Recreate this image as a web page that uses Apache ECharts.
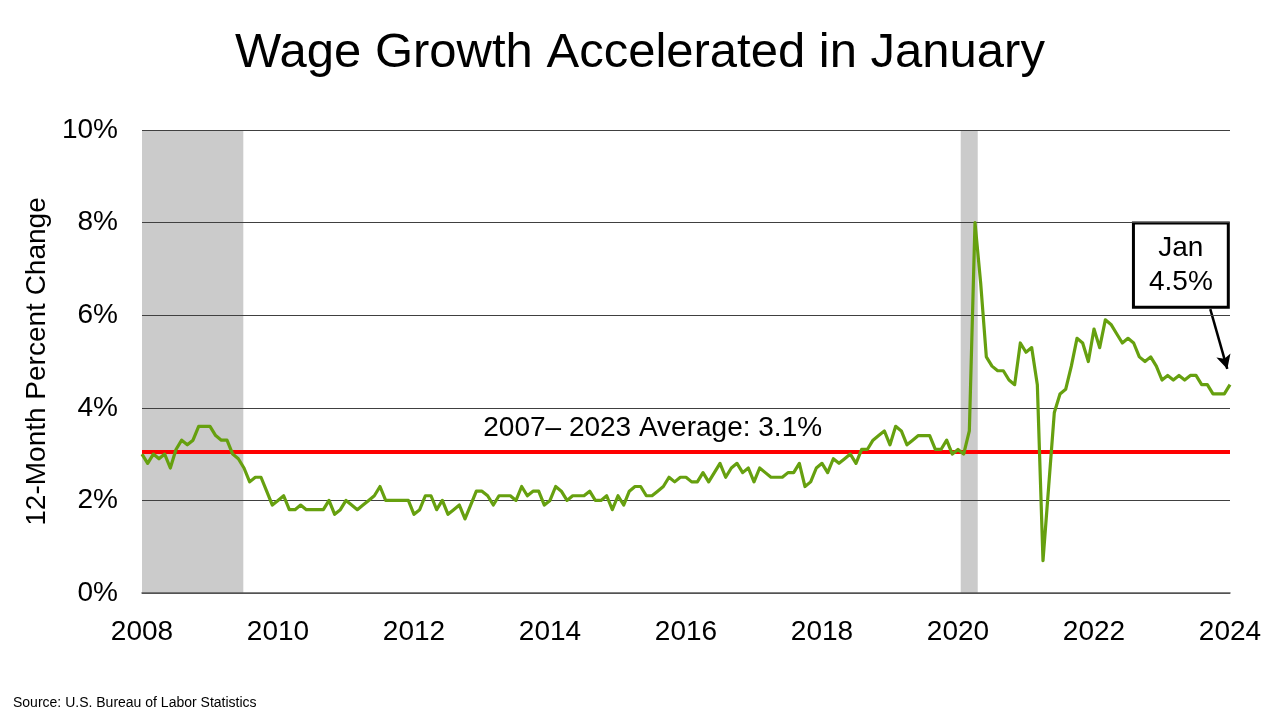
<!DOCTYPE html>
<html>
<head>
<meta charset="utf-8">
<title>Wage Growth Accelerated in January</title>
<script src="https://cdn.jsdelivr.net/npm/echarts@6/dist/echarts.min.js"></script>
<style>
    html, body { margin: 0; padding: 0; background: #fff; }
    #chart { width: 1280px; height: 720px; }
</style>
</head>
<body>
<div id="chart"></div>
<script>
// 12-month % change in average hourly earnings, monthly from Jan 2008
const START_YEAR = 2008;
const wage2008 = [3.0, 2.8, 3.0, 2.9, 3.0, 2.7, 3.1, 3.3, 3.2, 3.3, 3.6, 3.6];
const wage2009 = [3.6, 3.4, 3.3, 3.3, 3.0, 2.9, 2.7, 2.4, 2.5, 2.5, 2.2, 1.9];
const wage2010 = [2.0, 2.1, 1.8, 1.8, 1.9, 1.8, 1.8, 1.8, 1.8, 2.0, 1.7, 1.8];
const wage2011 = [2.0, 1.9, 1.8, 1.9, 2.0, 2.1, 2.3, 2.0, 2.0, 2.0, 2.0, 2.0];
const wage2012 = [1.7, 1.8, 2.1, 2.1, 1.8, 2.0, 1.7, 1.8, 1.9, 1.6, 1.9, 2.2];
const wage2013 = [2.2, 2.1, 1.9, 2.1, 2.1, 2.1, 2.0, 2.3, 2.1, 2.2, 2.2, 1.9];
const wage2014 = [2.0, 2.3, 2.2, 2.0, 2.1, 2.1, 2.1, 2.2, 2.0, 2.0, 2.1, 1.8];
const wage2015 = [2.1, 1.9, 2.2, 2.3, 2.3, 2.1, 2.1, 2.2, 2.3, 2.5, 2.4, 2.5];
const wage2016 = [2.5, 2.4, 2.4, 2.6, 2.4, 2.6, 2.8, 2.5, 2.7, 2.8, 2.6, 2.7];
const wage2017 = [2.4, 2.7, 2.6, 2.5, 2.5, 2.5, 2.6, 2.6, 2.8, 2.3, 2.4, 2.7];
const wage2018 = [2.8, 2.6, 2.9, 2.8, 2.9, 3.0, 2.8, 3.1, 3.1, 3.3, 3.4, 3.5];
const wage2019 = [3.2, 3.6, 3.5, 3.2, 3.3, 3.4, 3.4, 3.4, 3.1, 3.1, 3.3, 3.0];
const wage2020 = [3.1, 3.0, 3.5, 8.0, 6.7, 5.1, 4.9, 4.8, 4.8, 4.6, 4.5, 5.4];
const wage2021 = [5.2, 5.3, 4.5, 0.7, 2.3, 3.9, 4.3, 4.4, 4.9, 5.5, 5.4, 5.0];
const wage2022 = [5.7, 5.3, 5.9, 5.8, 5.6, 5.4, 5.5, 5.4, 5.1, 5.0, 5.1, 4.9];
const wage2023 = [4.6, 4.7, 4.6, 4.7, 4.6, 4.7, 4.7, 4.5, 4.5, 4.3, 4.3, 4.3];
const wage2024 = [4.5];

const AVERAGE = 3.05;
const AVERAGE_LABEL = '2007\u2013 2023 Average: 3.1%';

// recession shading, in fractional years
const recessions = [[2008.0, 2009.49], [2020.04, 2020.29]];

const xTicks = [2008, 2024, 2];   // min, max, step
const yTicks = [0, 10, 2];

const wages = [].concat(wage2008, wage2009, wage2010, wage2011, wage2012, wage2013,
    wage2014, wage2015, wage2016, wage2017, wage2018, wage2019, wage2020,
    wage2021, wage2022, wage2023, wage2024);
const lineData = wages.map((v, i) => [START_YEAR + i / 12, v]);
const last = lineData[lineData.length - 1];

const FONT = '"Liberation Sans", Arial, sans-serif';

const chart = echarts.init(document.getElementById('chart'), null, { renderer: 'canvas' });

// recession bands sit on zlevel 0, everything else (grid lines included) on zlevel 1 above them
chart.setOption({
    animation: false,
    backgroundColor: '#fff',
    textStyle: { fontFamily: FONT, color: '#000' },
    title: {
        text: 'Wage Growth Accelerated in January',
        left: 'center',
        top: 24,
        textStyle: { fontFamily: FONT, fontSize: 49, fontWeight: 'normal', color: '#000' }
    },
    grid: { left: 142, right: 50, top: 130, bottom: 127 },
    xAxis: {
        type: 'value',
        min: xTicks[0], max: xTicks[1], interval: xTicks[2],
        axisLine: { show: true, lineStyle: { color: '#595959', width: 1.5 } },
        axisTick: { show: false },
        splitLine: { show: false },
        axisLabel: { fontSize: 28, color: '#000', margin: 25, fontFamily: FONT, formatter: v => String(v) },
        zlevel: 1,
        z: 2
    },
    yAxis: {
        type: 'value',
        min: yTicks[0], max: yTicks[1], interval: yTicks[2],
        name: '12-Month Percent Change',
        nameLocation: 'middle',
        nameGap: 81,
        nameTextStyle: { fontSize: 28, color: '#000', fontFamily: FONT },
        axisLine: { show: false },
        axisTick: { show: false },
        splitLine: { show: true, lineStyle: { color: '#404040', width: 1 } },
        axisLabel: { fontSize: 28, color: '#000', margin: 24, formatter: '{value}%', fontFamily: FONT },
        zlevel: 1,
        z: 2
    },
    series: [
        {
            name: 'Recessions',
            type: 'line',
            data: [],
            zlevel: 0,
            z: 0,
            silent: true,
            markArea: {
                silent: true,
                itemStyle: { color: '#cbcbcb' },
                data: recessions.map(r => [{ xAxis: r[0] }, { xAxis: r[1] }])
            }
        },
        {
            name: 'Wage growth',
            type: 'line',
            data: lineData,
            showSymbol: false,
            zlevel: 1,
            z: 3,
            lineStyle: { color: '#66a00f', width: 3.2, join: 'round' },
            itemStyle: { color: '#66a00f' }
        },
        {
            name: 'Average',
            type: 'line',
            data: [],
            zlevel: 1,
            z: 4,
            silent: true,
            markLine: {
                silent: true,
                symbol: ['none', 'none'],
                lineStyle: { color: '#ff0000', width: 4, type: 'solid' },
                label: { show: false },
                data: [{ yAxis: AVERAGE }]
            },
            markPoint: {
                silent: true,
                symbol: 'circle',
                symbolSize: 1,
                itemStyle: { color: 'rgba(0,0,0,0)' },
                label: {
                    show: true,
                    position: 'inside',
                    formatter: AVERAGE_LABEL,
                    fontSize: 28,
                    color: '#000',
                    fontFamily: FONT
                },
                data: [{ coord: [2015.51, 3.55] }]
            }
        },
        {
            name: 'Callout',
            type: 'line',
            data: [],
            zlevel: 1,
            z: 5,
            silent: true,
            clip: false,
            markArea: {
                z: 10,
                silent: true,
                itemStyle: { color: '#fff', borderColor: '#000', borderWidth: 3 },
                label: {
                    show: true,
                    position: 'inside',
                    formatter: 'Jan\n' + last[1].toFixed(1) + '%',
                    fontSize: 28,
                    lineHeight: 34,
                    color: '#000',
                    fontFamily: FONT
                },
                data: [[{ coord: [2022.58, 7.99] }, { coord: [2023.975, 6.17] }]]
            },
            markLine: {
                z: 10,
                silent: true,
                symbol: ['none', 'arrow'],
                symbolSize: [11, 14],
                lineStyle: { color: '#000', width: 2.5, type: 'solid' },
                label: { show: false },
                data: [[{ coord: [2023.71, 6.13] }, { coord: [last[0] - 0.04, last[1] + 0.34] }]]
            }
        }
    ],
    graphic: [{
        type: 'text',
        left: 13,
        top: 696,
        style: { text: 'Source: U.S. Bureau of Labor Statistics', fontSize: 14, fill: '#000', fontFamily: FONT }
    }]
});

window.addEventListener('resize', () => chart.resize());
</script>
</body>
</html>
